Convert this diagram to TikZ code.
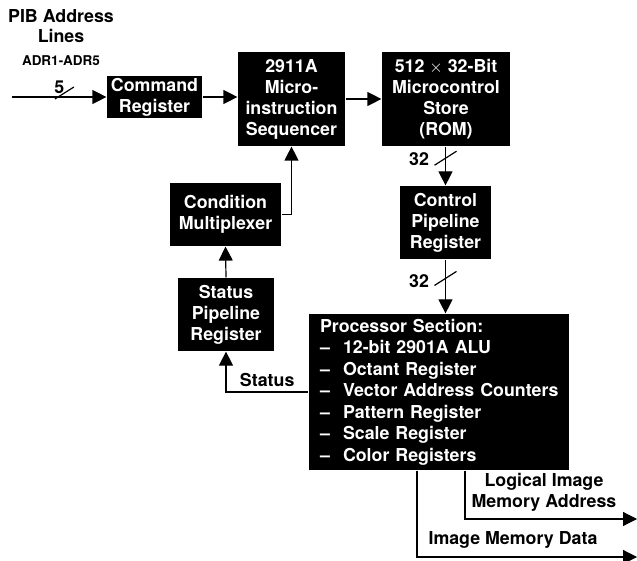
\documentclass[tikz,border=0pt]{standalone}
\usepackage{fontspec}
\setmainfont{TeX Gyre Heros}
\usetikzlibrary{arrows.meta,calc}

\begin{document}
\begin{tikzpicture}[x=1pt,y=-1pt,line width=1.2pt,>={Triangle[length=14pt,width=14pt]},
  font=\fontsize{17.8}{21}\selectfont\bfseries,
  blk/.style={fill=black,text=white,align=center,inner sep=0pt}]
\useasboundingbox (0,0) rectangle (637,561);
% heading of the input lines
\node[anchor=base] (pib1) at (61,23) {PIB Address};
\node[anchor=base] (pib2) at (61,43) {Lines};
\node[anchor=base,font=\fontsize{13.5}{15}\selectfont\bfseries] (adr) at (61,65.5) {ADR1-ADR5};
% blocks
\node[blk,minimum width=95pt,minimum height=42pt] (cmd) at (154.5,97) {Command\\Register};
\node[blk,minimum width=107pt,minimum height=94pt] (seq) at (291.5,99) {2911A\\Micro-\\instruction\\Sequencer};
\node[blk,minimum width=128pt,minimum height=94pt] (rom) at (446,99) {512 $\times$ 32-Bit\\Microcontrol\\Store\\(ROM)};
\node[blk,minimum width=91pt,minimum height=73pt] (ctl) at (445.5,222.5) {Control\\Pipeline\\Register};
\node[blk,minimum width=111pt,minimum height=63pt] (mux) at (225.5,214.5) {Condition\\Multiplexer};
\node[blk,minimum width=96pt,minimum height=73pt] (spr) at (226,314.5) {Status\\Pipeline\\Register};
\node[blk,align=left,text width=260pt,inner xsep=0pt,minimum height=156pt,
  font=\fontsize{17.8}{21.5}\selectfont\bfseries] (proc) at (439,392)
  {\leftskip=11pt Processor Section:\\
   \makebox[23pt][l]{--}12-bit 2901A ALU\\
   \makebox[23pt][l]{--}Octant Register\\
   \makebox[23pt][l]{--}Vector Address Counters\\
   \makebox[23pt][l]{--}Pattern Register\\
   \makebox[23pt][l]{--}Scale Register\\
   \makebox[23pt][l]{--}Color Registers\par};
% connectors
\coordinate (in) at (12,97);
\draw[->] (in) -- (in -| cmd.west) coordinate[pos=0.55] (s5);
\draw ($(s5)+(-9,2)$) -- ($(s5)+(10,-10)$);
\node[anchor=base east,inner sep=0pt] (n5) at ($(s5)+(1,-3)$) {5};
\draw[->] (cmd.east) -- (cmd.east -| seq.west);
\draw[->] (seq.east) -- (rom.west);
\draw[->] (rom.south -| ctl.north) -- (ctl.north) coordinate[pos=0.3] (s32a);
\draw ($(s32a)+(-11,7)$) -- ($(s32a)+(11,-7)$);
\node[anchor=base east,inner sep=0pt] (n32a) at ($(s32a)+(-16,7)$) {32};
\draw[->] (ctl.south) -- (ctl.south |- proc.north) coordinate[pos=0.35] (s32b);
\draw ($(s32b)+(-11,7)$) -- ($(s32b)+(11,-7)$);
\node[anchor=base east,inner sep=0pt] (n32b) at ($(s32b)+(-16,9)$) {32};
\draw[->] (mux.east) -| (seq.south);
\draw[->] (spr.north) -- (mux.south);
\draw[->] (proc.west) -| (spr.south) node[pos=0.25,above,inner ysep=5pt] {Status};
% outputs
\coordinate (lia) at (637,519);
\coordinate (imd) at (637,557);
\draw[->] (proc.south -| 465,0) |- (lia);
\draw[->] (proc.south -| 417,0) |- (imd);
\node[anchor=south,align=center,inner sep=0pt] (liat) at (544,512) {Logical Image\\Memory Address};
\node[anchor=south,inner sep=0pt] (imdt) at (513,549) {Image Memory Data};
\end{tikzpicture}
\end{document}
